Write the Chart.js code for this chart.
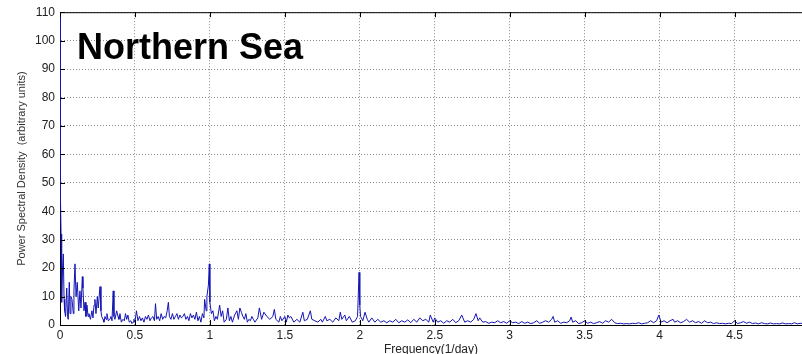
<!DOCTYPE html>
<html>
<head>
<meta charset="utf-8">
<script src="https://cdn.jsdelivr.net/npm/chart.js"></script>
<style>
  html, body { margin: 0; padding: 0; background: #fff; }
  canvas { display: block; }
</style>
</head>
<body>
<canvas id="myChart" width="802" height="354"></canvas>
<script>
    // frequency (1/day) and spectral density in segments
    const freqA = [0, 0.003, 0.007, 0.011, 0.017, 0.022, 0.027, 0.031, 0.037, 0.045, 0.05, 0.055, 0.062, 0.067, 0.073, 0.08, 0.089, 0.093, 0.1, 0.107, 0.115, 0.125, 0.133, 0.14, 0.149, 0.153, 0.16, 0.167, 0.173, 0.18, 0.187, 0.193, 0.203, 0.213, 0.22, 0.227, 0.233, 0.24, 0.249, 0.255, 0.267, 0.273, 0.278, 0.287, 0.293, 0.3, 0.307, 0.313, 0.322, 0.333, 0.34, 0.347, 0.355, 0.36, 0.367, 0.378, 0.387, 0.393, 0.4, 0.409, 0.42, 0.429, 0.437, 0.445, 0.453, 0.462, 0.473, 0.48, 0.487, 0.493];
    const psdA = [110, 45, 32, 8, 20, 25, 9, 5, 3, 13, 3, 2, 15, 4, 10, 9, 4, 12, 21.5, 10, 15, 5, 12, 6, 17, 13, 5, 8, 3, 7, 3, 4, 2, 5, 2.5, 7, 9, 4, 10, 6, 13.5, 5, 3, 2, 1, 3, 2, 4, 1.5, 2, 3, 1.5, 12, 3, 2, 5, 3, 2, 4, 1, 2, 1.5, 4, 2, 3.5, 1, 1.5, 0.5, 1, 2];

    const freqB = [0.5, 0.51, 0.52, 0.53, 0.54, 0.55, 0.56, 0.57, 0.58, 0.59, 0.6, 0.61, 0.62, 0.63, 0.637, 0.645, 0.655, 0.665, 0.675, 0.685, 0.695, 0.705, 0.715, 0.723, 0.73, 0.74, 0.75, 0.76, 0.77, 0.78, 0.79, 0.8, 0.81, 0.82, 0.83, 0.84, 0.85, 0.86, 0.87, 0.88, 0.89, 0.9, 0.91, 0.92, 0.93, 0.94, 0.95, 0.96, 0.965, 0.975, 0.98, 0.99, 0.996, 1.0, 1.01, 1.02, 1.03, 1.04, 1.05, 1.065, 1.075, 1.085, 1.095, 1.11, 1.12, 1.13, 1.14, 1.15, 1.165, 1.18, 1.19, 1.2, 1.21, 1.22, 1.23, 1.24, 1.25, 1.26, 1.27, 1.28, 1.29, 1.3, 1.32, 1.33, 1.345, 1.36, 1.38, 1.4, 1.42, 1.43, 1.44, 1.46, 1.47, 1.48];
    const psdB = [1, 5, 1.5, 3, 1.5, 2.5, 1, 3, 2, 3.5, 1.5, 2.5, 3, 1.5, 7.5, 2, 3, 1.5, 4, 2, 3, 2.5, 5, 8, 3, 2, 4, 2, 3, 4, 2, 3.5, 2.5, 3, 4, 2, 3, 1.5, 4, 2.5, 3.5, 2, 4.5, 1.5, 3, 1, 4, 2.5, 9, 5, 10, 14, 21.5, 8, 4, 5, 1.5, 3, 2, 7, 3, 5, 1, 2, 6, 1.5, 3, 1, 3.5, 5, 2, 6, 4.5, 3, 2, 4, 1, 2, 1.5, 3, 2, 1, 2.5, 6, 2, 4.5, 3, 2, 3, 5.5, 2, 1, 3, 1.5];

    const freqC = [1.5, 1.51, 1.52, 1.53, 1.54, 1.56, 1.58, 1.6, 1.62, 1.63, 1.65, 1.67, 1.68, 1.7, 1.72, 1.74, 1.75, 1.77, 1.78, 1.8, 1.82, 1.84, 1.86, 1.87, 1.88, 1.9, 1.91, 1.93, 1.95, 1.97, 1.985, 1.995, 2.0, 2.005, 2.02, 2.035, 2.05, 2.06, 2.08, 2.1, 2.12, 2.14, 2.16, 2.18, 2.2, 2.22, 2.24, 2.26, 2.28, 2.3, 2.32, 2.34, 2.36, 2.38, 2.4, 2.42, 2.44, 2.46, 2.47, 2.49, 2.5, 2.52, 2.54, 2.56, 2.58, 2.6, 2.62, 2.64, 2.66, 2.68, 2.7, 2.72, 2.74, 2.76, 2.775, 2.79, 2.8, 2.82, 2.84, 2.86, 2.88, 2.9, 2.92, 2.94, 2.96, 2.98];
    const psdC = [3, 1, 3.5, 2.5, 3, 1, 2, 1, 4.5, 1.5, 2, 5, 2, 1.5, 1, 2, 1, 3, 1.5, 2, 1, 2.5, 1.5, 4.5, 2, 3.5, 1.5, 3, 1, 1.5, 3, 18.5, 7, 3, 1.5, 4.5, 2, 1, 2.5, 1, 2, 1, 1.5, 0.8, 1.5, 1, 2, 0.8, 1.5, 1, 1.8, 0.8, 2, 1, 2.5, 1.5, 2, 1, 3.5, 1, 2.5, 1, 1.5, 0.6, 1.5, 1, 2, 0.8, 1.5, 3.5, 1, 1.5, 1, 2, 4, 1.5, 2.5, 1, 1.2, 0.6, 1, 0.8, 1.5, 0.8, 1.2, 0.6];

    const freqD = [3.0, 3.02, 3.04, 3.06, 3.08, 3.1, 3.12, 3.14, 3.16, 3.18, 3.2, 3.22, 3.24, 3.26, 3.28, 3.29, 3.3, 3.32, 3.34, 3.36, 3.38, 3.4, 3.41, 3.42, 3.44, 3.46, 3.48, 3.5, 3.52, 3.54, 3.56, 3.58, 3.6, 3.62, 3.64, 3.66, 3.68, 3.7, 3.72, 3.74, 3.76, 3.78, 3.8, 3.82, 3.84, 3.86, 3.88, 3.9, 3.92, 3.94, 3.96, 3.98, 3.995, 4.01, 4.03, 4.05, 4.07, 4.09, 4.1, 4.12, 4.14, 4.16, 4.18, 4.2, 4.22, 4.24, 4.26, 4.28, 4.3, 4.32, 4.34, 4.36, 4.38, 4.4, 4.42, 4.44, 4.46, 4.48, 4.5, 4.52, 4.54, 4.56, 4.58, 4.6, 4.62, 4.64, 4.66, 4.68, 4.7, 4.72, 4.74, 4.76, 4.78, 4.8, 4.82, 4.84, 4.86, 4.88, 4.9, 4.92, 4.94, 4.96];
    const psdD = [1.5, 0.8, 1, 0.5, 1.2, 0.6, 1, 0.5, 0.8, 1.5, 0.6, 1, 1.5, 1, 2, 3, 1, 1.5, 0.6, 1, 0.8, 1.5, 2.8, 1, 1.5, 0.5, 0.8, 1.5, 0.6, 1, 0.5, 0.8, 1.2, 0.6, 1.5, 1, 2, 0.8, 0.5, 0.6, 0.4, 0.5, 0.4, 0.6, 0.5, 0.8, 0.4, 0.6, 0.8, 1.5, 0.8, 1.5, 3.5, 1, 1.5, 0.8, 1.5, 2, 1, 1.5, 0.8, 1.2, 2, 1, 1.5, 0.8, 1.2, 0.6, 1.5, 0.8, 1, 0.5, 0.8, 0.5, 0.6, 0.4, 0.6, 0.5, 1.5, 0.5, 0.8, 1.2, 0.6, 1, 0.5, 0.7, 0.4, 0.8, 0.5, 0.4, 0.7, 0.4, 0.5, 0.4, 0.7, 0.4, 0.5, 0.4, 0.8, 0.4, 0.6, 0.5];

    const yTicks = [0, 10, 20, 30, 40, 50, 60, 70, 80, 90, 100, 110];
    const xTicks = [0, 0.5, 1, 1.5, 2, 2.5, 3, 3.5, 4, 4.5];

    const freq = freqA.concat(freqB, freqC, freqD);
    const psd = psdA.concat(psdB, psdC, psdD);
    const points = freq.map((f, i) => ({x: f, y: psd[i]}));

    const FONT = '"Liberation Sans", Arial, sans-serif';

    // matlab style box: top border, inward tick marks, and the panel title
    const matlabBox = {
        id: 'matlabBox',
        afterDraw(chart) {
            const ctx = chart.ctx;
            const a = chart.chartArea;
            const xs = chart.scales.x, ys = chart.scales.y;
            ctx.save();
            ctx.strokeStyle = '#000';
            ctx.lineWidth = 1;
            ctx.beginPath();
            ctx.moveTo(a.left, a.top + 0.5);
            ctx.lineTo(a.right, a.top + 0.5);
            xTicks.forEach(v => {
                const px = Math.round(xs.getPixelForValue(v)) + 0.5;
                ctx.moveTo(px, a.top);
                ctx.lineTo(px, a.top + 5);
                ctx.moveTo(px, a.bottom);
                ctx.lineTo(px, a.bottom - 5);
            });
            yTicks.forEach(v => {
                const py = Math.round(ys.getPixelForValue(v)) + 0.5;
                ctx.moveTo(a.left, py);
                ctx.lineTo(a.left + 5, py);
            });
            ctx.stroke();

            ctx.fillStyle = '#000';
            ctx.font = 'bold 36px ' + FONT;
            ctx.textBaseline = 'alphabetic';
            ctx.textAlign = 'left';
            ctx.fillText('Northern Sea', 77, 59);
            ctx.restore();
        }
    };

    const gridColor = c => c.tick && c.tick.value === 0 ? 'rgba(0,0,0,0)' : '#8a8a8a';

    const ctx = document.getElementById('myChart');
    myChart = new Chart(ctx, {
        type: 'line',
        data: {
            datasets: [{
                label: 'PSD',
                data: points,
                borderColor: '#1414b4',
                borderWidth: 1,
                pointRadius: 0,
                tension: 0,
                fill: false
            }]
        },
        options: {
            responsive: false,
            animation: false,
            devicePixelRatio: 1,
            layout: { padding: { top: 11, left: 0, right: 0, bottom: 0 } },
            plugins: {
                legend: { display: false },
                tooltip: { enabled: false }
            },
            scales: {
                x: {
                    type: 'linear',
                    min: 0,
                    max: 4.95,
                    afterFit: s => { s.height = 29; },
                    afterBuildTicks: s => { s.ticks = xTicks.map(v => ({value: v})); },
                    ticks: {
                        padding: 3,
                        color: '#222',
                        font: { family: FONT, size: 12 },
                        maxRotation: 0,
                        callback: v => String(v)
                    },
                    grid: { color: gridColor, drawTicks: false },
                    border: { display: true, color: '#000', width: 1, dash: [1, 2] },
                    title: {
                        display: true,
                        text: 'Frequency(1/day)',
                        color: '#222',
                        font: { family: FONT, size: 12 },
                        padding: { top: 0, bottom: -3 }
                    }
                },
                y: {
                    min: 0,
                    max: 110,
                    afterFit: s => { s.width = 60; },
                    afterBuildTicks: s => { s.ticks = yTicks.map(v => ({value: v})); },
                    ticks: {
                        padding: 5,
                        color: '#222',
                        font: { family: FONT, size: 12 }
                    },
                    grid: { color: gridColor, drawTicks: false },
                    border: { display: true, color: '#000', width: 1, dash: [1, 2] },
                    title: {
                        display: true,
                        text: 'Power Spectral Density  (arbitrary units)',
                        color: '#333',
                        font: { family: FONT, size: 11 },
                        padding: { top: 15, bottom: 0 }
                    }
                }
            }
        },
        plugins: [matlabBox]
    });
</script>
</body>
</html>
